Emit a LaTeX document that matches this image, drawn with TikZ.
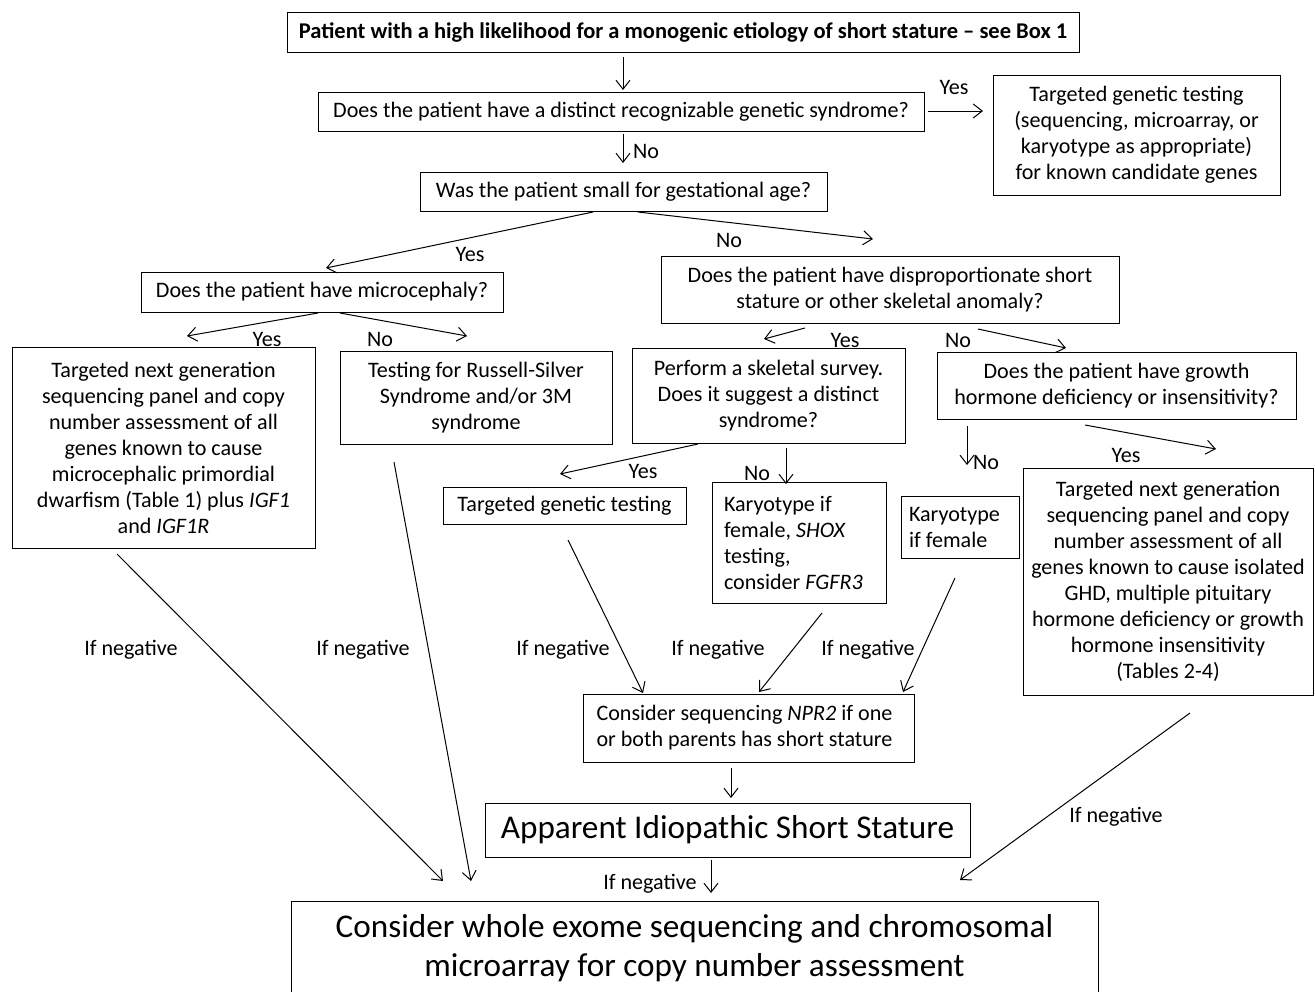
\documentclass[tikz,border=0pt]{standalone}
\usepackage{fontspec}
\setmainfont{Carlito}
\usetikzlibrary{arrows.meta}
\begin{document}
\begin{tikzpicture}[x=1pt,y=-1pt,
  box/.style={draw, line width=1pt, inner sep=0pt, align=center, font=\fontsize{22.1}{26}\selectfont},
  lbox/.style={box, align=flush left},
  lbl/.style={inner sep=0pt, font=\fontsize{22.1}{26}\selectfont},
  big/.style={font=\fontsize{33.2}{39}\selectfont},
  arr/.style={line width=1pt, -{Straight Barb[length=9pt,width=14pt,line width=1pt]}}]
\useasboundingbox (0,0) rectangle (1315,991);

% boxes
\node[box, minimum width=792pt, minimum height=40pt, font=\bfseries\fontsize{22.5}{26}\selectfont] (title) at (683,32)
  {Patient with a high likelihood for a monogenic etiology of short stature -- see Box 1};
\node[box, minimum width=606pt, minimum height=39pt] (q1) at (621,111.5)
  {Does the patient have a distinct recognizable genetic syndrome?};
\node[box, minimum width=287pt, minimum height=120pt] (tgt1) at (1136.5,135)
  {Targeted genetic testing\\(sequencing, microarray, or\\karyotype as appropriate)\\for known candidate genes};
\node[box, minimum width=407pt, minimum height=39pt] (q2) at (623.5,191.5)
  {Was the patient small for gestational age?};
\node[box, minimum width=362pt, minimum height=40pt] (q3) at (322,292)
  {Does the patient have microcephaly?};
\node[box, minimum width=458pt, minimum height=67pt] (q4) at (890,289.5)
  {Does the patient have disproportionate short\\stature or other skeletal anomaly?};
\node[box, minimum width=303pt, minimum height=201pt] (ngs1) at (163.5,447.5)
  {Targeted next generation\\sequencing panel and copy\\number assessment of all\\genes known to cause\\microcephalic primordial\\dwarfism (Table 1) plus \textit{IGF1}\\and \textit{IGF1R}};
\node[box, minimum width=272pt, minimum height=93pt] (rs) at (476,397.5)
  {Testing for Russell-Silver\\Syndrome and/or 3M\\syndrome};
\node[box, minimum width=273pt, minimum height=95pt] (skel) at (768.5,395.5)
  {Perform a skeletal survey.\\Does it suggest a distinct\\syndrome?};
\node[box, minimum width=359pt, minimum height=67pt] (gh) at (1116.5,385.5)
  {Does the patient have growth\\hormone deficiency or insensitivity?};
\node[box, minimum width=243pt, minimum height=37pt] (tgt2) at (564.5,505.5)
  {Targeted genetic testing};
\node[lbox, minimum width=174pt, minimum height=121pt, text width=150pt] (kar1) at (799,542.5)
  {Karyotype if\\female, \textit{SHOX}\\testing,\\consider \textit{FGFR3}};
\node[lbox, minimum width=118pt, minimum height=62pt, text width=102pt] (kar2) at (960,527)
  {Karyotype\\if female};
\node[box, minimum width=290pt, minimum height=227pt] (ngs2) at (1168,581.5)
  {Targeted next generation\\sequencing panel and copy\\number assessment of all\\genes known to cause isolated\\GHD, multiple pituitary\\hormone deficiency or growth\\hormone insensitivity\\(Tables 2-4)};
\node[lbox, minimum width=331pt, minimum height=68pt, text width=304pt] (npr2) at (748.5,728)
  {Consider sequencing \textit{NPR2} if one\\or both parents has short stature};
\node[box, big, minimum width=485pt, minimum height=54pt] (aiss) at (727.5,830)
  {Apparent Idiopathic Short Stature};
\node[box, minimum width=807pt, minimum height=120pt, anchor=north] (final) at (694.5,901) {};
\node[big, align=center, inner sep=0pt] (finaltext) at (694.5,948.5)
  {Consider whole exome sequencing and chromosomal\\microarray for copy number assessment};

% arrow end points
\coordinate (a1s) at (623,57);   \coordinate (a1e) at (623,90);
\coordinate (a2s) at (928,111);  \coordinate (a2e) at (983,111);
\coordinate (a3s) at (623,134);  \coordinate (a3e) at (623,163);
\coordinate (a4s) at (593,212);  \coordinate (a4e) at (326,268);
\coordinate (a5s) at (638,212);  \coordinate (a5e) at (873,239);
\coordinate (a6s) at (318,313);  \coordinate (a6e) at (187,336);
\coordinate (a7s) at (340,313);  \coordinate (a7e) at (467,336);
\coordinate (a8s) at (805,328);  \coordinate (a8e) at (764,339);
\coordinate (a9s) at (978,329);  \coordinate (a9e) at (1066,348);
\coordinate (a10s) at (698,444); \coordinate (a10e) at (560,474);
\coordinate (a11s) at (786,448); \coordinate (a11e) at (786,484);
\coordinate (a12s) at (967,426); \coordinate (a12e) at (967,465);
\coordinate (a13s) at (1085,425);\coordinate (a13e) at (1216,449);
\coordinate (n1s) at (117,554);  \coordinate (n1e) at (443,881);
\coordinate (n2s) at (394,462);  \coordinate (n2e) at (471,881);
\coordinate (n3s) at (568,540);  \coordinate (n3e) at (643,693);
\coordinate (n4s) at (822,613);  \coordinate (n4e) at (759,692);
\coordinate (n5s) at (955,578);  \coordinate (n5e) at (903,692);
\coordinate (n6s) at (1190,713); \coordinate (n6e) at (960,880);
\coordinate (n7s) at (731,768);  \coordinate (n7e) at (731,798);
\coordinate (n8s) at (711,860);  \coordinate (n8e) at (711,893);

% arrows
\foreach \a in {a1,a2,a3,a4,a5,a6,a7,a8,a9,a10,a11,a12,a13,n1,n2,n3,n4,n5,n6,n7,n8}
  \draw[arr] (\a s) -- (\a e);

% labels
\node[lbl] (l2) at (954,87) {Yes};
\node[lbl] (l3) at (646,151) {No};
\node[lbl] (l4) at (470,254) {Yes};
\node[lbl] (l5) at (729,240) {No};
\node[lbl] (l6) at (267,339) {Yes};
\node[lbl] (l7) at (380,339) {No};
\node[lbl] (l8) at (845,340) {Yes};
\node[lbl] (l9) at (958,340) {No};
\node[lbl] (l10) at (643,471) {Yes};
\node[lbl] (l11) at (757,473) {No};
\node[lbl] (l12) at (986,462) {No};
\node[lbl] (l13) at (1126,455) {Yes};
\node[lbl] (ln1) at (131,650) {If negative};
\node[lbl] (ln2) at (363,650) {If negative};
\node[lbl] (ln3) at (563,650) {If negative};
\node[lbl] (ln4) at (718,650) {If negative};
\node[lbl] (ln5) at (868,650) {If negative};
\node[lbl] (ln6) at (1116,817) {If negative};
\node[lbl] (ln8) at (650,884) {If negative};
\end{tikzpicture}
\end{document}
